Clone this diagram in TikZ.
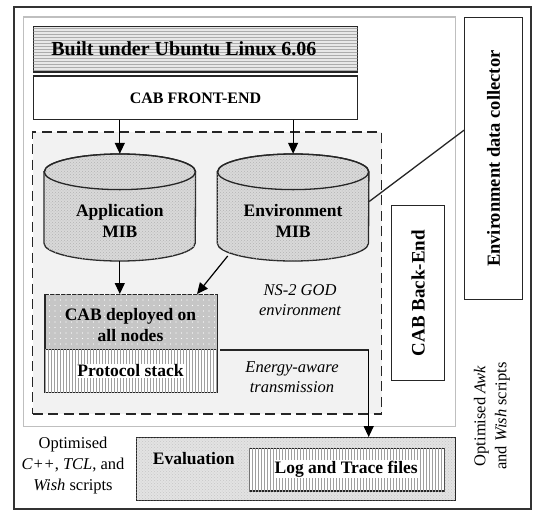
\documentclass[tikz,border=0pt]{standalone}
\usepackage{fontspec}
\setmainfont{Liberation Serif}
\usetikzlibrary{arrows.meta,patterns,calc}
\pgfdeclarepatternformonly{sparsedots}{\pgfpoint{-1pt}{-1pt}}{\pgfpoint{1pt}{1pt}}{\pgfpoint{5.5pt}{5.5pt}}{\pgfpathcircle{\pgfpointorigin}{0.65pt}\pgfusepath{fill}}
\tikzset{
  edge/.style={draw=black!85, line width=1.3pt},
  box/.style={edge, rectangle, inner sep=0pt, anchor=north west},
  arr/.style={line width=1.2pt, draw=black, -{Triangle[length=11pt,width=10pt]}},
  btxt/.style={font=\fontsize{17.5}{20.5}\selectfont\bfseries, align=center, inner sep=0pt},
  itxt/.style={font=\fontsize{16.5}{20}\selectfont\itshape, align=center, inner sep=0pt},
  rtxt/.style={font=\fontsize{16.5}{21}\selectfont, align=center, inner sep=0pt},
  hlines/.style={fill=gray!18, postaction={pattern=horizontal lines, pattern color=gray!65}},
  vlines/.style={fill=white, postaction={pattern=vertical lines, pattern color=gray!75}},
  cylfill/.style={fill=gray!30, postaction={pattern=crosshatch dots, pattern color=gray!60}},
  evalfill/.style={fill=gray!22, postaction={pattern=crosshatch dots, pattern color=gray!45}},
  dotfill/.style={fill=gray!45, postaction={pattern=sparsedots, pattern color=white}},
}
\begin{document}
\begin{tikzpicture}[x=1pt,y=-1pt]
\useasboundingbox (0,0) rectangle (533,509);
% outer frame
\node[box, line width=1.5pt, draw=black!80, minimum width=517pt, minimum height=502pt] (outer) at (13,6) {};
% inner gray frame
\node[box, draw=gray!50, line width=1.5pt, minimum width=431.8pt, minimum height=409.9pt] (inner) at (22.8,16) {};
% top boxes
\node[box, hlines, minimum width=323.8pt, minimum height=45.6pt] (built) at (33,25.8) {};
\node[btxt, font=\fontsize{20}{24}\selectfont\bfseries] (builttxt) at (183.9,48.6) {Built under Ubuntu Linux 6.06};
\node[box, fill=white, minimum width=323.8pt, minimum height=43.5pt] (front) at (33,75.4) {};
\node[btxt, font=\fontsize{16}{19}\selectfont\bfseries] (fronttxt) at (front.center) {CAB FRONT-END};
% dashed NS-2 region
\node[box, fill=gray!10, draw=black!85, line width=1.8pt, dash pattern=on 10pt off 5.5pt, minimum width=349pt, minimum height=282.1pt] (ns) at (31.6,131.2) {};
% cylinders
\node[inner sep=0pt, minimum width=151.2pt, minimum height=107pt] (app) at (119.8,207.5) {};
\node[inner sep=0pt, minimum width=151.2pt, minimum height=107pt] (env) at (293.1,207.5) {};
\foreach \n in {app,env}{
  \path[edge, cylfill] ($(\n.west)+(0,-35.7)$) -- ($(\n.west)+(0,35.7)$)
     arc[start angle=180, end angle=360, x radius=75.6pt, y radius=17.8pt]
     -- ($(\n.east)+(0,-35.7)$)
     arc[start angle=0, end angle=180, x radius=75.6pt, y radius=17.8pt] -- cycle;
  \draw[edge] ($(\n.center)+(0,-35.7)$) ellipse[x radius=75.6pt, y radius=17.8pt];
}
\node[btxt] (apptxt) at (119.8,221) {Application\\MIB};
\node[btxt] (envtxt) at (293.1,221) {Environment\\MIB};
% deployed and protocol stack
\node[box, dotfill, minimum width=172.6pt, minimum height=55pt] (deploy) at (44.2,294) {};
\node[btxt] (deploytxt) at (130.5,325) {CAB deployed on\\all nodes};
\node[box, vlines, minimum width=172.6pt, minimum height=42.9pt] (proto) at (44.2,349) {};
\node[btxt, fill=white, inner sep=1pt] (prototxt) at (130.5,371) {Protocol stack};
% italic labels
\node[itxt] (nstxt) at (300,300) {NS-2 GOD\\environment};
\node[itxt] (eatxt) at (292,377) {Energy-aware\\transmission};
% back-end and collector
\node[box, fill=white, minimum width=53.3pt, minimum height=175pt] (back) at (390.7,205) {};
\node[btxt, rotate=90, font=\fontsize{19}{22}\selectfont\bfseries] (backtxt) at (back.center) {CAB Back-End};
\node[box, fill=white, minimum width=58pt, minimum height=282pt] (coll) at (464,17) {};
\node[btxt, rotate=90, font=\fontsize{18.5}{22}\selectfont\bfseries] (colltxt) at (coll.center) {Environment data collector};
% evaluation
\node[box, evalfill, minimum width=318.7pt, minimum height=62.6pt] (eval) at (135.9,437) {};
\node[btxt, fill=gray!22, inner sep=1pt] (evaltxt) at (193.7,458.8) {Evaluation};
\node[box, vlines, minimum width=195.1pt, minimum height=42.4pt] (log) at (248.7,448) {};
\node[btxt, fill=white, inner sep=1pt] (logtxt) at (346.2,469) {Log and Trace files};
% side texts
\node[rtxt] (lefttxt) at (73,466) {Optimised\\\textit{C++}, \textit{TCL}, and\\\textit{Wish} scripts};
\node[rtxt, rotate=90] (righttxt) at (492,416) {Optimised \textit{Awk}\\and \textit{Wish} scripts};
% connectors
\draw[arr] (front.south -| app.north) -- (app.north);
\draw[arr] (front.south -| env.north) -- (env.north);
\draw[arr] (app.south) -- (app.south |- deploy.north);
\coordinate (envbl) at (227.7,256);
\coordinate (deployin) at (197,294);
\draw[arr] (envbl) -- (deployin);
\coordinate (envr) at (369.2,201.5);
\coordinate (collin) at (464,130.2);
\draw[edge] (envr) -- (collin);
\coordinate (eaL) at (220,350);
\coordinate (eaR) at (368.7,350);
\draw[edge] (eaL) -- (eaR);
\draw[arr] (eaR) -- (eaR |- eval.north);
\end{tikzpicture}
\end{document}
